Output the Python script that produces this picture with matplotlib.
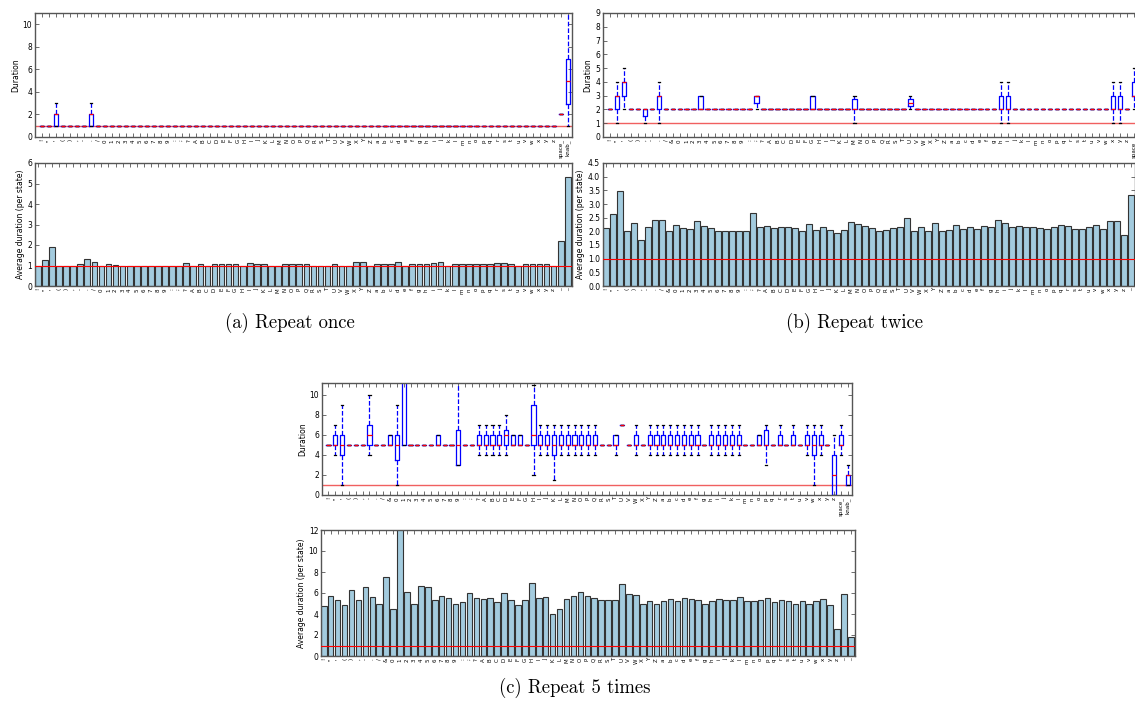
# -*- coding: utf-8 -*-
"""
Duration per state: repeat once / twice / 5 times
"""

import matplotlib
matplotlib.use('Agg')
import matplotlib.pyplot as plt

W, H = 1135, 704

# %% Labels
punct = ['!', '"', "'", '(', ')', ',', '-', '.', '/']
digits = list('0123456789')
other = [':', ';', '?']
upper = list('ABCDEFGHIJKLMNOPQRSTUVWXYZ')
lower = list('abcdefghijklmnopqrstuvwxyz')

labels_a = punct + digits + other + upper + lower + ['space_', 'knab_']
labels_b = punct + ['&'] + digits + other + upper + lower + ['space_']
labels_c = punct + ['&'] + digits + other + upper + lower + ['space_', 'knab_']

# %% (a) Repeat once
a_avg = [1.0, 1.27, 1.9, 1.0, 1.0, 1.0, 1.05, 1.3, 1.17, 1.0,
         1.05, 1.02, 1.0, 1.0, 1.0, 1.0, 1.0, 1.0, 1.0, 1.0,
         1.0, 1.12, 1.0, 1.05, 1.0, 1.05, 1.08, 1.08, 1.05, 1.0,
         1.1, 1.05, 1.05, 1.0, 1.0, 1.05, 1.05, 1.05, 1.05, 1.0,
         1.0, 1.0, 1.05, 1.0, 1.0, 1.15, 1.17, 1.0, 1.05, 1.05,
         1.05, 1.17, 1.0, 1.05, 1.05, 1.05, 1.1, 1.17, 1.0, 1.05,
         1.05, 1.05, 1.05, 1.05, 1.08, 1.1, 1.1, 1.05, 1.0, 1.05,
         1.05, 1.05, 1.05, 1.0, 2.2, 5.3]
a_base = 1
a_idx = [3, 8, 75, 76]
a_q1 = [1, 1, 2, 2.9]
a_med = [2, 2, 2, 5]
a_q3 = [2, 2, 2, 6.9]
a_lo = [1, 1, 2, 1]
a_hi = [3, 3, 2, 13]

# %% (b) Repeat twice
b_avg = [2.12, 2.63, 3.48, 2.0, 2.3, 1.68, 2.17, 2.42, 2.42, 2.0,
         2.23, 2.13, 2.1, 2.38, 2.2, 2.13, 2.0, 2.0, 2.0, 2.0,
         2.0, 2.67, 2.16, 2.18, 2.13, 2.17, 2.17, 2.13, 2.0, 2.28,
         2.06, 2.15, 2.06, 1.93, 2.06, 2.33, 2.26, 2.2, 2.14, 2.02,
         2.04, 2.11, 2.17, 2.5, 2.02, 2.15, 2.02, 2.3, 2.02, 2.06,
         2.22, 2.09, 2.17, 2.07, 2.21, 2.15, 2.43, 2.29, 2.15, 2.2,
         2.17, 2.15, 2.11, 2.07, 2.15, 2.25, 2.21, 2.08, 2.08, 2.16,
         2.22, 2.1, 2.38, 2.38, 1.88, 3.34]
b_base = 2
b_idx = [2, 3, 6, 8, 14, 22, 30, 36, 44, 57, 58, 73, 74, 76]
b_q1 = [2, 3, 1.5, 2, 2, 2.5, 2, 2, 2.25, 2, 2, 2, 2, 3]
b_med = [3, 4, 2, 3, 2, 3, 2, 2, 2.5, 2, 2, 2, 2, 3]
b_q3 = [3, 4, 2, 3, 3, 3, 3, 2.75, 2.75, 3, 3, 3, 3, 4]
b_lo = [1, 2, 1, 1, 2, 2, 2, 1, 2, 1, 1, 1, 1, 2]
b_hi = [4, 5, 2, 4, 3, 3, 3, 3, 3, 4, 4, 4, 4, 5]

# %% (c) Repeat 5 times
c_avg = [4.8, 5.7, 5.3, 4.9, 6.3, 5.3, 6.6, 5.6, 5.0, 7.5,
         4.5, 13.0, 6.1, 5.0, 6.7, 6.6, 5.3, 5.7, 5.5, 5.0,
         5.1, 6.0, 5.5, 5.4, 5.5, 5.1, 6.0, 5.3, 4.9, 5.3,
         7.0, 5.5, 5.6, 4.0, 4.5, 5.4, 5.7, 6.1, 5.7, 5.5,
         5.3, 5.3, 5.3, 6.9, 5.9, 5.8, 5.0, 5.2, 5.0, 5.2,
         5.4, 5.2, 5.5, 5.4, 5.3, 5.0, 5.2, 5.4, 5.3, 5.3,
         5.6, 5.2, 5.2, 5.3, 5.5, 5.1, 5.3, 5.2, 5.0, 5.2,
         5.0, 5.2, 5.4, 4.9, 2.6, 5.9, 1.8]
c_base = 5
c_idx = [2, 3, 7, 10, 11, 12, 17, 20, 23, 24, 25, 26, 27, 28, 29, 31, 32, 33,
         34, 35, 36, 37, 38, 39, 40, 43, 44, 46, 48, 49, 50, 51, 52, 53, 54,
         55, 57, 58, 59, 60, 61, 64, 65, 67, 69, 71, 72, 73, 75, 76, 77]
c_q1 = [5, 4, 5, 5, 3.5, 5, 5, 3, 5, 5, 5, 5, 5, 5, 5, 5, 5, 5,
        4, 5, 5, 5, 5, 5, 5, 5, 7, 5, 5, 5, 5, 5, 5, 5, 5,
        5, 5, 5, 5, 5, 5, 5, 5, 5, 5, 5, 4, 5, 0, 5, 1]
c_med = [5, 5, 6, 5, 5, 13, 5, 5, 5, 5, 5, 5, 6, 5, 5, 6, 5, 5,
         5, 5, 5, 5, 5, 5, 5, 5, 7, 5, 5, 5, 5, 5, 5, 5, 5,
         5, 5, 5, 5, 5, 5, 5, 5, 5, 5, 5, 5, 5, 2, 5, 2]
c_q3 = [6, 6, 7, 6, 6, 14, 6, 6.5, 6, 6, 6, 6, 6.5, 6, 6, 9, 6, 6,
        6, 6, 6, 6, 6, 6, 6, 6, 7, 6, 6, 6, 6, 6, 6, 6, 6,
        6, 6, 6, 6, 6, 6, 6, 6.5, 6, 6, 6, 6, 6, 4, 6, 2]
c_lo = [4, 1, 4, 5, 1, 5, 5, 3, 4, 4, 4, 4, 4, 5, 5, 2, 4, 4,
        1.5, 4, 4, 4, 4, 4, 4, 4, 7, 4, 4, 4, 4, 4, 4, 4, 4,
        4, 4, 4, 4, 4, 4, 5, 3, 5, 5, 4, 1, 4, 0, 4, 1]
c_hi = [7, 9, 10, 6, 9, 14, 6, 14, 7, 7, 7, 7, 8, 6, 6, 11, 7, 7,
        7, 7, 7, 7, 7, 7, 7, 6, 7, 7, 7, 7, 7, 7, 7, 7, 7,
        7, 7, 7, 7, 7, 7, 6, 7, 7, 7, 7, 7, 7, 6, 7, 3]


def rect(l, r, t, b):
    return [l / W, 1 - b / H, (r - l) / W, (b - t) / H]


def box_stats(n, base, idx, q1, med, q3, lo, hi):
    stats = [dict(med=base, q1=base, q3=base, whislo=base, whishi=base, fliers=[])
             for _ in range(n)]
    for i, a, m, b, l, h in zip(idx, q1, med, q3, lo, hi):
        stats[i - 1] = dict(med=m, q1=a, q3=b, whislo=l, whishi=h, fliers=[])
    return stats


def style(ax):
    for s in ax.spines.values():
        s.set_color('#555555')
        s.set_linewidth(1)
    ax.tick_params(direction='in', top=True, right=True, length=3, width=0.6,
                   color='#555555', labelsize=5.5, pad=2)
    ax.tick_params(axis='x', labelsize=4, pad=1.5)


def panel(ax_box, ax_bar, labels, stats, avg, box_top, box_ticks,
          bar_top, bar_ticks, bar_fmt=None):
    n = len(labels)
    pos = list(range(1, n + 1))
    ax_box.axhline(1, color='#f06060', lw=1, zorder=1)
    ax_box.bxp(stats, positions=pos, widths=0.6, showfliers=False,
               manage_ticks=False,
               boxprops=dict(color='b', lw=0.9),
               medianprops=dict(color='r', lw=0.9),
               whiskerprops=dict(color='b', ls='--', lw=0.9),
               capprops=dict(color='k', lw=0.9))
    ax_box.set_xlim(0.05, n + 0.6)
    ax_box.set_ylim(0, box_top)
    ax_box.set_yticks(box_ticks)
    ax_box.set_xticks(pos)
    ax_box.set_xticklabels(labels, rotation=90)
    ax_box.set_ylabel('Duration', fontsize=5.5, labelpad=2)
    style(ax_box)

    bar_labels = [s if len(s) == 1 else '_' for s in labels]
    ax_bar.bar(pos, avg, width=0.8, color='#a3cbde', edgecolor='#333333',
               lw=0.8, zorder=2)
    ax_bar.axhline(1, color='r', lw=0.8, zorder=3)
    ax_bar.set_xlim(0.6, n + 0.6)
    ax_bar.set_ylim(0, bar_top)
    ax_bar.set_yticks(bar_ticks)
    if bar_fmt:
        ax_bar.set_yticklabels([bar_fmt % v for v in bar_ticks])
    ax_bar.set_xticks(pos)
    ax_bar.set_xticklabels(bar_labels, rotation=90)
    ax_bar.set_ylabel('Average duration (per state)', fontsize=5.5, labelpad=2)
    style(ax_bar)


fig = plt.figure(figsize=(W / 100, H / 100), dpi=100)

# (a)
ax1 = fig.add_axes(rect(35, 572, 13, 137))
ax2 = fig.add_axes(rect(35, 572, 163, 286))
panel(ax1, ax2, labels_a,
      box_stats(len(labels_a), a_base, a_idx, a_q1, a_med, a_q3, a_lo, a_hi),
      a_avg, 11, range(0, 11, 2), 6, range(0, 7))

# (b)
ax3 = fig.add_axes(rect(603, 1138.5, 13, 137))
ax4 = fig.add_axes(rect(603, 1135, 163, 286))
panel(ax3, ax4, labels_b,
      box_stats(len(labels_b), b_base, b_idx, b_q1, b_med, b_q3, b_lo, b_hi),
      b_avg, 9, range(0, 10), 4.5, [i * 0.5 for i in range(10)], '%.1f')

# (c)
ax5 = fig.add_axes(rect(322, 852, 383, 495))
ax6 = fig.add_axes(rect(321, 855, 530, 656))
panel(ax5, ax6, labels_c,
      box_stats(len(labels_c), c_base, c_idx, c_q1, c_med, c_q3, c_lo, c_hi),
      c_avg, 11.2, range(0, 11, 2), 12, range(0, 13, 2))

cap = dict(ha='center', va='center', fontsize=13.5, family='cmr10')
fig.text(290 / W, 1 - 323 / H, '(a) Repeat once', **cap)
fig.text(855 / W, 1 - 323 / H, '(b) Repeat twice', **cap)
fig.text(575 / W, 1 - 688 / H, '(c) Repeat 5 times', **cap)

fig.savefig('out.png', dpi=100)
